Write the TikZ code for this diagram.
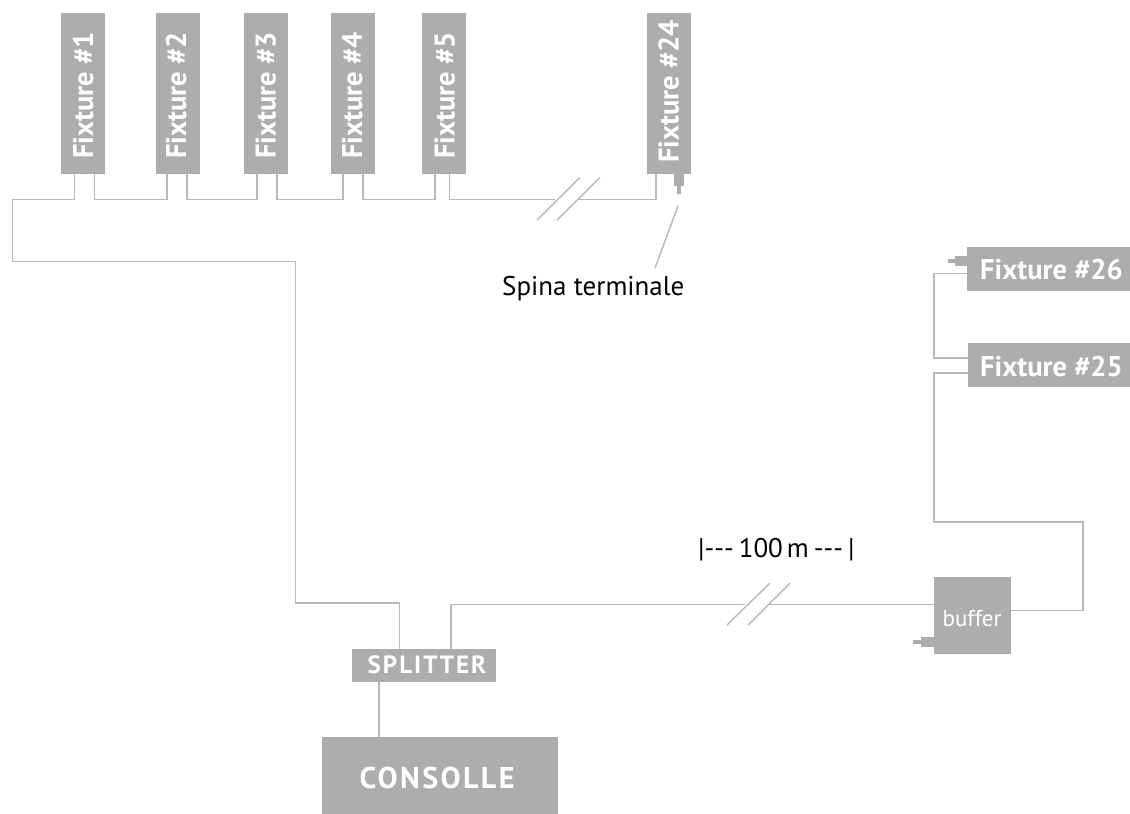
\documentclass[tikz,border=0pt]{standalone}
\usepackage{fontspec}
\setmainfont{PT Sans}
\usetikzlibrary{calc}
\definecolor{boxgray}{HTML}{ADADAD}
\definecolor{wiregray}{HTML}{B9B9B9}
\tikzset{
  box/.style={fill=boxgray,draw=none,inner sep=0pt,outer sep=0pt},
  wire/.style={draw=wiregray,line width=1.9pt,line join=miter},
  slash/.style={draw=wiregray,line width=1.4pt},
  plug/.style={fill=boxgray,draw=none},
  boldtext/.style={text=white,inner sep=0pt,font=\bfseries\fontsize{28.5}{28.5}\selectfont},
  darktext/.style={text=black,inner sep=0pt,font=\fontsize{27}{27}\selectfont},
}
\begin{document}
\begin{tikzpicture}[x=1pt,y=-1pt]
\useasboundingbox (0,0) rectangle (1130,814);
\fill[white] (0,0) rectangle (1130,814);
% top fixtures
\foreach \n/\cx/\bx/\by in {1/83/93/159,2/177.5/186/159,3/266/275.7/159,4/353/362/159,5/444/454.7/159,24/669/678.5/163}{
  \node[box,minimum width=44pt,minimum height=161pt] (f\n) at (\cx,93.5) {};
  \node[boldtext,rotate=90,anchor=base west] (t\n) at (\bx,\by) {Fixture \#\n};
}
\node[box,minimum width=163pt,minimum height=44pt] (f26) at (1048.5,269) {};
\node[box,minimum width=162pt,minimum height=44pt] (f25) at (1049,365) {};
\node[boldtext,anchor=base west] (t26) at (980,279) {Fixture \#26};
\node[boldtext,anchor=base west] (t25) at (980,376) {Fixture \#25};
\node[box,minimum width=144pt,minimum height=33.5pt] (split) at (424.2,665.5) {};
\node[boldtext,anchor=base,font=\bfseries\fontsize{25}{25}\selectfont\addfontfeature{LetterSpace=8}] (tsplit) at (427,673) {SPLITTER};
\node[box,minimum width=236pt,minimum height=77pt] (cons) at (440,775.5) {};
\node[boldtext,anchor=base,font=\bfseries\fontsize{30}{30}\selectfont\addfontfeature{LetterSpace=8}] (tcons) at (437,788) {CONSOLLE};
\node[box,minimum width=77.5pt,minimum height=77.5pt] (buf) at (972.5,615.5) {};
\node[text=white,inner sep=0pt,anchor=base,font=\fontsize{23}{23}\selectfont] (tbuf) at (972,626) {buffer};
\node[darktext,anchor=base west] (spina) at (502,295) {Spina terminale};
\node[darktext,anchor=base west] (cent) at (698,557) {|-{}-{}-\hspace{5pt}100\hspace{4pt}m\hspace{5pt}-{}-{}-\hspace{5pt}|};
% plugs
\fill[plug] (674,174) rectangle (684,186);
\fill[plug] (677,186) rectangle (681,194);
\fill[plug] (955,256) rectangle (968,266);
\fill[plug] (948,259) rectangle (955,263);
\fill[plug] (921,637) rectangle (934,647);
\fill[plug] (913,640) rectangle (921,644);
% bus wires
\coordinate (buscorner) at (12.5,199.5);
\coordinate (lowcorner) at (12.5,261.5);
\coordinate (drop) at (295.5,261.5);
\coordinate (splitcorner) at (295.5,603);
\draw[wire] ([xshift=-8.5pt]f1.south) |- (buscorner) -- (lowcorner) -- (drop) -- (splitcorner) -| ([xshift=-24.7pt]split.north);
\coordinate (b1) at (94.5,199.5);
\coordinate (a2) at (166.7,199.5);
\coordinate (b2) at (186.7,199.5);
\coordinate (a3) at (256.7,199.5);
\coordinate (b3) at (276.7,199.5);
\coordinate (a4) at (343.3,199.5);
\coordinate (b4) at (362.7,199.5);
\coordinate (a5) at (435,199.5);
\coordinate (b5) at (449.5,199.5);
\draw[wire] (b1 |- f1.south) -- (b1) -- (a2) -- (a2 |- f2.south);
\draw[wire] (b2 |- f2.south) -- (b2) -- (a3) -- (a3 |- f3.south);
\draw[wire] (b3 |- f3.south) -- (b3) -- (a4) -- (a4 |- f4.south);
\draw[wire] (b4 |- f4.south) -- (b4) -- (a5) -- (a5 |- f5.south);
% break to 24
\coordinate (brkA) at (555,199.5);
\coordinate (brkB) at (578,199.5);
\coordinate (a24) at (656,199.5);
\draw[wire] (b5 |- f5.south) -- (b5) -- (brkA);
\draw[wire] (brkB) -- (a24) -- (a24 |- f24.south);
\coordinate (sa1) at (537,220); \coordinate (sa2) at (580,177.5);
\coordinate (sb1) at (557,220); \coordinate (sb2) at (600,177.5);
\draw[slash] (sa1) -- (sa2);
\draw[slash] (sb1) -- (sb2);
% terminal leader
\coordinate (leadtop) at (678,206);
\coordinate (leadbot) at (655,268);
\draw[slash] (leadtop) -- (leadbot);
% splitter right to buffer
\coordinate (r0) at (451,604.5);
\coordinate (brkC) at (745,604.5);
\coordinate (brkD) at (768,604.5);
\draw[wire] (r0 |- split.north) -- (r0) -- (brkC);
\draw[wire] (brkD) -- (brkD -| buf.west);
\coordinate (sc1) at (727,625); \coordinate (sc2) at (770,583);
\coordinate (sd1) at (748,625); \coordinate (sd2) at (790,583);
\draw[slash] (sc1) -- (sc2);
\draw[slash] (sd1) -- (sd2);
% splitter to console
\coordinate (c0) at (379,700);
\draw[wire] (c0 |- split.south) -- (c0 |- cons.north);
% buffer to fixtures
\coordinate (o1) at (1083,610.5);
\coordinate (o2) at (1083,522);
\coordinate (o3) at (934,522);
\coordinate (o4) at (934,373);
\draw[wire] (o1 -| buf.east) -- (o1) -- (o2) -- (o3) -- (o4) -- (o4 -| f25.west);
\coordinate (p1) at (934,273.5);
\coordinate (p2) at (934,358);
\draw[wire] (p1 -| f26.west) -- (p1) -- (p2) -- (p2 -| f25.west);
\end{tikzpicture}
\end{document}
